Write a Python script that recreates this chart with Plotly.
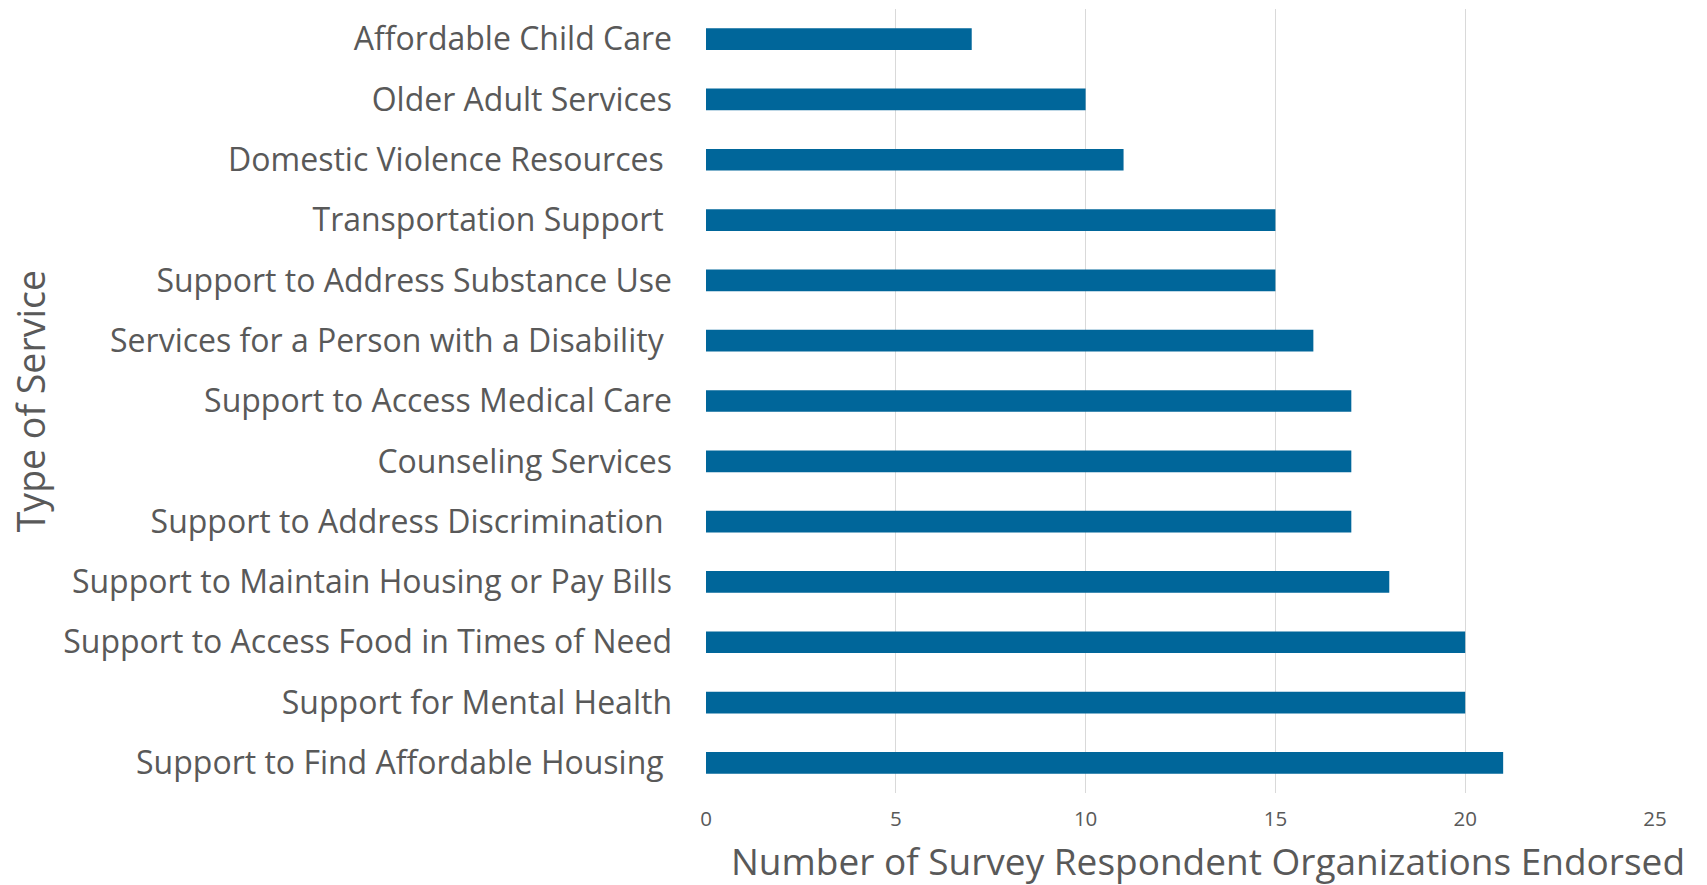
import plotly.graph_objects as go

# Service types, listed top to bottom as displayed
services = [
    "Affordable Child Care",
    "Older Adult Services",
    "Domestic Violence Resources\u00a0",
    "Transportation Support\u00a0",
    "Support to Address Substance Use",
    "Services for a Person with a Disability\u00a0",
    "Support to Access Medical Care",
    "Counseling Services",
    "Support to Address Discrimination\u00a0",
    "Support to Maintain Housing or Pay Bills",
    "Support to Access Food in Times of Need",
    "Support for Mental Health",
    "Support to Find Affordable Housing\u00a0",
]
endorsed = [7, 10, 11, 15, 15, 16, 17, 17, 17, 18, 20, 20, 21]

x_ticks = [0, 5, 10, 15, 20, 25]

BAR = "#00669A"
TEXT = "#595959"
GRID = "#D9D9D9"
FONT = "Open Sans"

fig = go.Figure(
    go.Bar(
        x=endorsed,
        y=services,
        orientation="h",
        marker=dict(color=BAR, line=dict(width=0)),
        width=0.36,
    )
)

fig.update_layout(
    width=1707,
    height=885,
    paper_bgcolor="white",
    plot_bgcolor="white",
    margin=dict(l=706, r=52, t=9, b=92),
    font=dict(family=FONT, color=TEXT),
    showlegend=False,
    xaxis=dict(
        range=[0, 25],
        tickvals=x_ticks,
        showgrid=True,
        gridcolor=GRID,
        gridwidth=1,
        zeroline=False,
        showline=False,
        tickfont=dict(size=20.5, color=TEXT),
        ticklabelstandoff=11,
    ),
    yaxis=dict(
        autorange="reversed",
        showgrid=False,
        zeroline=False,
        showline=False,
        tickfont=dict(size=32, color=TEXT),
        ticklabelstandoff=33,
    ),
    annotations=[
        dict(
            text="Number of Survey Respondent Organizations Endorsed",
            xref="paper", yref="paper",
            x=0.529, y=-0.0855,
            xanchor="center", yanchor="middle",
            showarrow=False,
            font=dict(size=37, color=TEXT, family=FONT),
        ),
        dict(
            text="Type of Service",
            xref="paper", yref="paper",
            x=-0.712, y=0.5,
            xanchor="center", yanchor="middle",
            textangle=-90,
            showarrow=False,
            font=dict(size=37.5, color=TEXT, family=FONT),
        ),
    ],
)

fig.write_html("out.html")
